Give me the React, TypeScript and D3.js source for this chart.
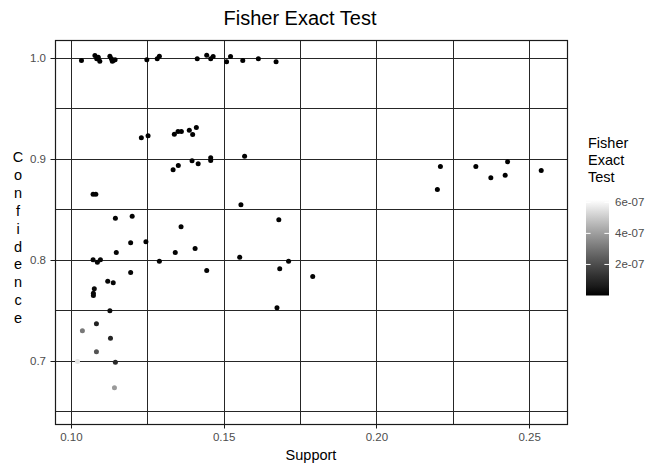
import React from "react";
import * as d3 from "d3";

const support = [
  0.1033, 0.1077, 0.1088, 0.1093, 0.1083, 0.1126, 0.1131, 0.1137, 0.1143, 0.1134,
  0.1247, 0.1281, 0.1288, 0.1412, 0.1443, 0.1456, 0.1464, 0.1508, 0.1521, 0.1561,
  0.1612, 0.1670,
  0.1229, 0.1251, 0.1337, 0.1349, 0.1360, 0.1386, 0.1397, 0.1409, 0.1567, 0.1456,
  0.1456, 0.1395, 0.1415, 0.1350, 0.1333, 0.1071, 0.1080, 0.1555, 0.1144, 0.1199,
  0.1679, 0.1359, 0.1194, 0.1244, 0.1147, 0.1071, 0.1085, 0.1095, 0.1288, 0.1340,
  0.1405, 0.1551, 0.1711, 0.1682, 0.1443, 0.1194, 0.1119, 0.1137, 0.1075, 0.1072,
  0.1072, 0.1673, 0.1126, 0.1082, 0.1036, 0.1128, 0.1082, 0.1020, 0.1144, 0.1141,
  0.1790,
  0.2208, 0.2198, 0.2324, 0.2373, 0.2420, 0.2428, 0.2538,
];

const confidence = [
  0.9980, 1.0030, 1.0013, 0.9973, 0.9997, 1.0023, 0.9997, 0.9980, 0.9987, 0.9973,
  0.9987, 0.9997, 1.0023, 0.9997, 1.0033, 0.9997, 1.0020, 0.9967, 1.0020, 0.9980,
  0.9997, 0.9967,
  0.9215, 0.9235, 0.9250, 0.9277, 0.9277, 0.9290, 0.9248, 0.9317, 0.9033, 0.9017,
  0.8990, 0.8987, 0.8957, 0.8941, 0.8898, 0.8656, 0.8656, 0.8551, 0.8419, 0.8439,
  0.8403, 0.8334, 0.8175, 0.8185, 0.8079, 0.8007, 0.7983, 0.8007, 0.7993, 0.8079,
  0.8119, 0.8033, 0.7993, 0.7918, 0.7901, 0.7881, 0.7795, 0.7779, 0.7720, 0.7676,
  0.7653, 0.7532, 0.7502, 0.7373, 0.7304, 0.7231, 0.7096, 0.7000, 0.6993, 0.6740,
  0.7842,
  0.8931, 0.8703, 0.8931, 0.8819, 0.8845, 0.8977, 0.8891,
];

const fisher = [
  1e-10, 2e-10, 1e-10, 3e-10, 1e-10, 2e-10, 1e-10, 1e-10, 2e-10, 1e-10,
  1e-10, 1e-10, 2e-10, 1e-10, 1e-10, 1e-10, 1e-10, 1e-10, 1e-10, 1e-10,
  1e-10, 1e-10,
  1e-9, 1e-9, 1e-9, 1e-9, 1e-9, 1e-9, 1e-9, 1e-9, 1e-10, 1e-9,
  1e-9, 1e-9, 1e-9, 1e-9, 1e-9, 5e-9, 5e-9, 1e-9, 5e-9, 5e-9,
  1e-9, 5e-9, 5e-9, 5e-9, 8e-9, 1e-8, 1e-8, 1e-8, 5e-9, 5e-9,
  5e-9, 5e-9, 5e-9, 5e-9, 5e-9, 8e-9, 1e-8, 1e-8, 1.5e-8, 1.5e-8,
  1.5e-8, 5e-9, 2e-8, 0.8e-7, 3.1e-7, 0.9e-7, 2.2e-7, 5.6e-7, 1.0e-7, 3.9e-7,
  5e-9,
  1e-10, 1e-10, 1e-10, 1e-10, 1e-10, 1e-10, 1e-10,
];

const xTicks = [0.1, 0.15, 0.2, 0.25];
const xMinor = [0.125, 0.175, 0.225];
const yTicks = [0.7, 0.8, 0.9, 1.0];
const yMinor = [0.65, 0.75, 0.85, 0.95];
const legendTicks = [2e-7, 4e-7, 6e-7];
const yLabelLetters = ["C", "o", "n", "f", "i", "d", "e", "n", "c", "e"];

const W = 648;
const H = 470;
const FONT = "'Liberation Sans', Arial, Helvetica, sans-serif";

export default function App() {
  const left = 55.5, right = 567.5, top = 40.5, bottom = 424.5;
  const x = d3.scaleLinear().domain([0.0948, 0.2624]).range([left, right]);
  const y = d3.scaleLinear().domain([0.6376, 1.0178]).range([bottom, top]);
  const fDomain: [number, number] = [0, 6.15e-7];
  const color = d3
    .scaleLinear<string>()
    .domain(fDomain)
    .range(["#000000", "#ffffff"])
    .interpolate(d3.interpolateLab);

  const snap = (v: number) => Math.round(v - 0.5) + 0.5;

  const barX0 = 586, barX1 = 609, barTop = 200, barBot = 295.5;
  const ly = d3.scaleLinear().domain(fDomain).range([barBot, barTop]);
  const stops = d3.range(0, 1.0001, 0.1);
  const interp = d3.interpolateLab("#000000", "#ffffff");

  const data = support.map((s, i) => ({ s, c: confidence[i], f: fisher[i] }));
  const gridColor = "#262626";

  return (
    <svg
      width={W}
      height={H}
      style={{ position: "absolute", left: 0, top: 0, background: "#fff" }}
      fontFamily={FONT}
    >
      <rect x={0} y={0} width={W} height={H} fill="#fff" />
      <text x={300} y={25} fontSize={20} textAnchor="middle" fill="#000">
        Fisher Exact Test
      </text>

      {/* grid */}
      <g stroke={gridColor} strokeWidth={1} fill="none">
        {xMinor.concat(xTicks).map((t) => (
          <line key={"vx" + t} x1={snap(x(t))} x2={snap(x(t))} y1={top} y2={bottom} />
        ))}
        {yMinor.concat(yTicks).map((t) => (
          <line key={"hy" + t} x1={left} x2={right} y1={snap(y(t))} y2={snap(y(t))} />
        ))}
      </g>

      {/* points */}
      <g>
        {data.map((d, i) => (
          <circle key={i} cx={x(d.s)} cy={y(d.c)} r={2.5} fill={color(d.f)} />
        ))}
      </g>

      {/* panel border */}
      <rect
        x={left}
        y={top}
        width={right - left}
        height={bottom - top}
        fill="none"
        stroke="#1a1a1a"
        strokeWidth={1.2}
      />

      {/* x axis */}
      <g>
        {xTicks.map((t) => (
          <g key={"xt" + t}>
            <line x1={snap(x(t))} x2={snap(x(t))} y1={bottom} y2={bottom + 4} stroke="#1a1a1a" />
            <text x={x(t)} y={441} fontSize={11.5} textAnchor="middle" fill="#4d4d4d">
              {d3.format(".2f")(t)}
            </text>
          </g>
        ))}
        <text x={311} y={460} fontSize={14.5} textAnchor="middle" fill="#000">
          Support
        </text>
      </g>

      {/* y axis */}
      <g>
        {yTicks.map((t) => (
          <g key={"yt" + t}>
            <line x1={left - 5} x2={left} y1={snap(y(t))} y2={snap(y(t))} stroke="#1a1a1a" />
            <text x={46} y={y(t) + 4} fontSize={11.5} textAnchor="end" fill="#4d4d4d">
              {d3.format(".1f")(t)}
            </text>
          </g>
        ))}
        {yLabelLetters.map((ch, i) => (
          <text key={"yl" + i} x={18} y={162 + i * 17.9} fontSize={14.5} textAnchor="middle" fill="#000">
            {ch}
          </text>
        ))}
      </g>

      {/* legend */}
      <g>
        <text x={588} y={148} fontSize={14.5} fill="#000">Fisher</text>
        <text x={588} y={165} fontSize={14.5} fill="#000">Exact</text>
        <text x={588} y={182} fontSize={14.5} fill="#000">Test</text>
        <defs>
          <linearGradient id="fgrad" x1="0" y1="1" x2="0" y2="0">
            {stops.map((s) => (
              <stop key={s} offset={s} stopColor={interp(s)} />
            ))}
          </linearGradient>
        </defs>
        <rect x={barX0} y={barTop} width={barX1 - barX0} height={barBot - barTop} fill="url(#fgrad)" />
        {legendTicks.map((t) => (
          <g key={"lt" + t}>
            <line x1={barX0} x2={barX0 + 4.6} y1={ly(t)} y2={ly(t)} stroke="#fff" strokeWidth={1} />
            <line x1={barX1 - 4.6} x2={barX1} y1={ly(t)} y2={ly(t)} stroke="#fff" strokeWidth={1} />
            <text x={615} y={ly(t) + 4} fontSize={11.5} fill="#4d4d4d">
              {d3.format(".0e")(t).replace("e-7", "e-07")}
            </text>
          </g>
        ))}
      </g>
    </svg>
  );
}
